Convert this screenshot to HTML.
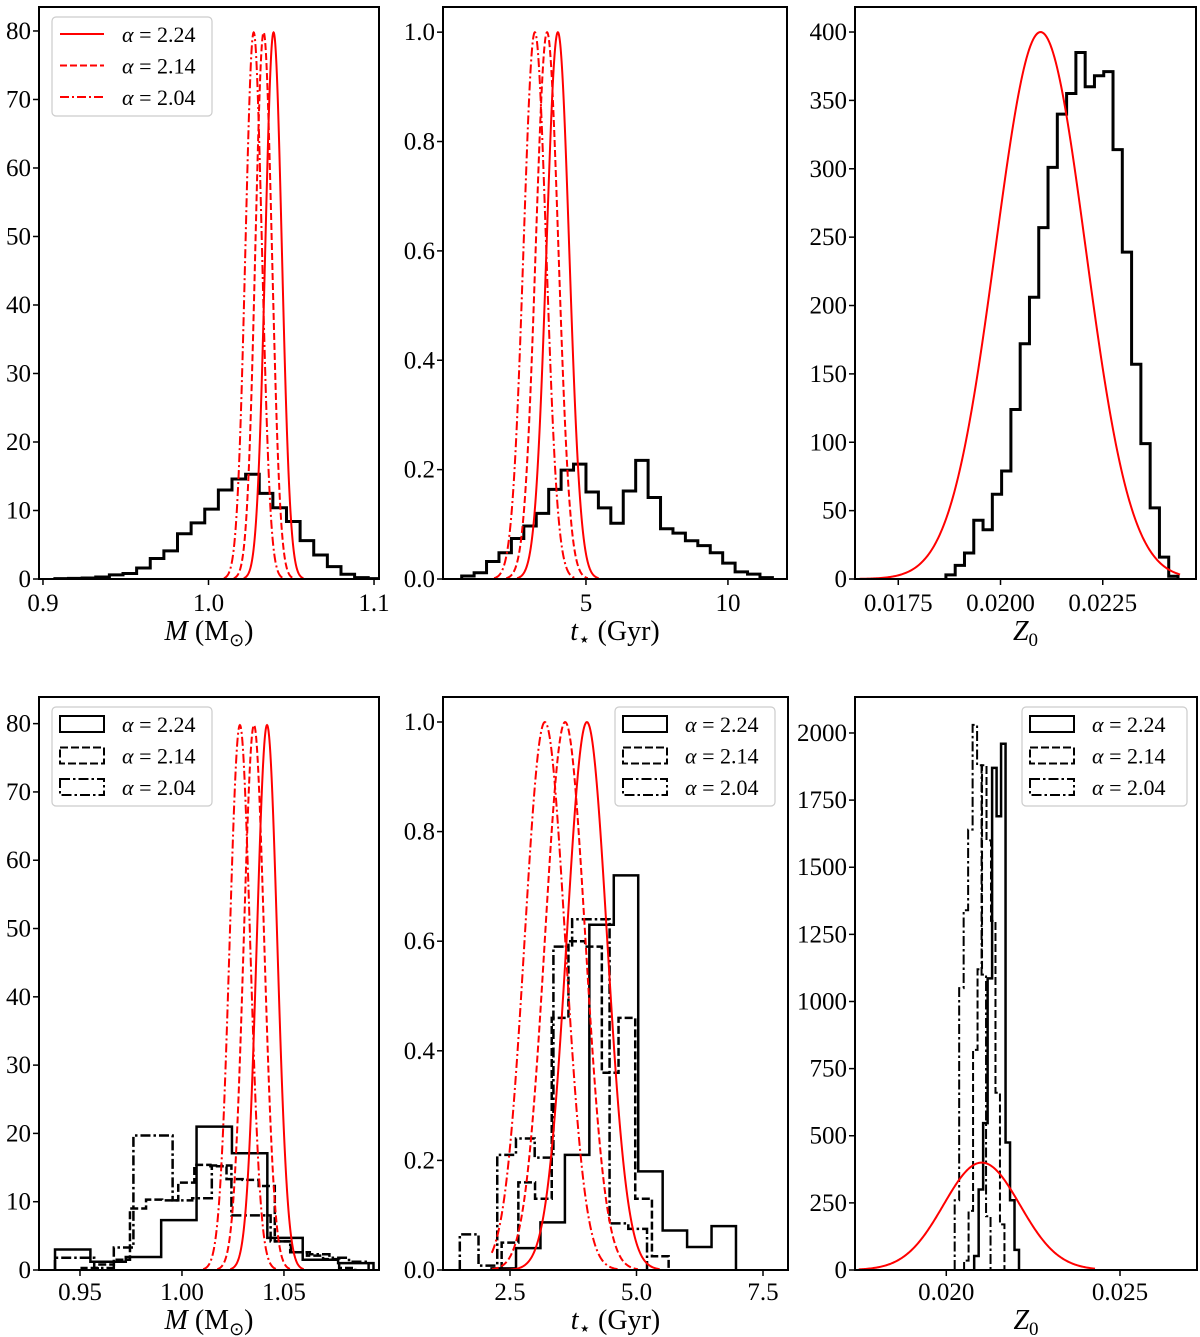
<!DOCTYPE html>
<html><head><meta charset="utf-8"><style>
html,body{margin:0;padding:0;background:#fff;}
svg{display:block;font-family:"Liberation Serif","DejaVu Serif",serif;}
</style></head><body>
<svg id="chart" width="1200" height="1337" viewBox="0 0 1200 1337" xmlns="http://www.w3.org/2000/svg"></svg>
<script>
// ---------- DATA ----------
const p1HistStart = 0.9072, p1HistWidth = 0.00823;
const p1Hist = [0.05,0.1,0.15,0.3,0.6,0.8,1.6,3.0,4.1,6.6,8.2,10.2,13.0,14.6,15.3,12.5,10.4,8.4,5.6,3.5,1.8,0.7,0.2,0.05];
const p1Mu = [1.0393,1.0333,1.0273];
const p1Sigma = 0.005;
const p1XTicks = [0.9,1.0,1.1];
const p1XTickLabels = ['0.9','1.0','1.1'];
const p1YTicks = [0,10,20,30,40,50,60,70,80];
const p2HistStart = 0.623, p2HistWidth = 0.4377;
const p2Hist = [0.0055,0.0115,0.032,0.048,0.074,0.097,0.120,0.164,0.199,0.210,0.159,0.130,0.102,0.161,0.217,0.149,0.092,0.084,0.070,0.061,0.048,0.029,0.013,0.009,0.0025];
const p2Mu = [4.01,3.63,3.20];
const p2Sigma = 0.399;
const p2XTicks = [5,10];
const p2XTickLabels = ['5','10'];
const p2YTicks = [0,0.2,0.4,0.6,0.8,1.0];
const p2YTickLabels = ['0.0','0.2','0.4','0.6','0.8','1.0'];
const p3HistStart = 0.018665, p3HistWidth = 0.000227;
const p3Hist = [3,10,19,43,36,62,79,124,172,206,257,301,340,355,385,360,368,371,314,239,157,99,52,16,2];
const p3Mu = 0.02098, p3Sigma = 0.0011, p3Amp = 400;
const p3XTicks = [0.0175,0.0200,0.0225];
const p3XTickLabels = ['0.0175','0.0200','0.0225'];
const p3YTicks = [0,50,100,150,200,250,300,350,400];
const p4SolidStart = 0.93775, p4SolidWidth = 0.01735;
const p4Solid = [3.0,1.2,1.9,7.3,21.0,17.1,4.7,1.5,1.0];
const p4DashStart = 0.95083, p4DashWidth = 0.00789;
const p4Dash = [0.3,0.8,1.5,9.0,10.3,10.2,12.8,15.4,15.2,13.3,13.2,12.3,4.2,2.6,2.1,1.6,0.3];
const p4DotStart = 0.93775, p4DotWidth = 0.00961;
const p4Dot = [1.8,1.8,0.3,3.3,19.7,19.7,10.2,10.5,15.3,8.0,8.0,4.2,2.6,2.3,1.8,1.2];
const p4Mu = [1.0417,1.0353,1.0284];
const p4XTicks = [0.95,1.00,1.05];
const p4XTickLabels = ['0.95','1.00','1.05'];
const p5SolidStart = 2.136, p5SolidWidth = 0.483;
const p5Solid = [0.003,0.04,0.087,0.21,0.63,0.72,0.18,0.072,0.042,0.08];
const p5DashStart = 2.335, p5DashWidth = 0.33;
const p5Dash = [0.05,0.16,0.13,0.46,0.60,0.59,0.36,0.46,0.13,0.025];
const p5DotStart = 1.508, p5DotWidth = 0.37;
const p5Dot = [0.065,0.008,0.21,0.24,0.205,0.59,0.64,0.64,0.085,0.075];
const p5Mu = [4.02,3.59,3.19];
const p5XTicks = [2.5,5.0,7.5];
const p5XTickLabels = ['2.5','5.0','7.5'];
const p6SolidStart = 0.020803, p6SolidWidth = 0.000129;
const p6Solid = [52,300,547,1086,1870,1690,1960,475,260,75];
const p6DashStart = 0.020513, p6DashWidth = 0.000129;
const p6Dash = [35,220,820,1120,1880,1600,1300,660,170];
const p6DotStart = 0.020242, p6DotWidth = 0.000129;
const p6Dot = [260,1050,1340,1640,2030,1880,1100,200];
const p6Mu = 0.02102, p6Sigma = 0.0011, p6Amp = 400;
const p6XTicks = [0.020,0.025];
const p6XTickLabels = ['0.020','0.025'];
const p6YTicks = [0,250,500,750,1000,1250,1500,1750,2000];
const legendLabels = ['α = 2.24','α = 2.14','α = 2.04'];

// ---------- DRAWING ----------
const NS='http://www.w3.org/2000/svg';
const svg=document.getElementById('chart');
function mk(tag,attrs,parent){const e=document.createElementNS(NS,tag);for(const k in attrs)e.setAttribute(k,attrs[k]);parent.appendChild(e);return e;}
const STYLES=[null,'7,3','9,3,2,3'];
const BSTYLES=[null,'8,3','10,3,2.5,3'];

function makeAxes(name,L){
  const g=mk('g',{},svg);
  
  
  L.sx=v=>L.px0+(v-L.x0)/(L.x1-L.x0)*(L.px1-L.px0);
  L.sy=v=>L.py1-(v-L.y0)/(L.y1-L.y0)*(L.py1-L.py0);
  const cp=mk('clipPath',{id:name+'-clip'},g);
  mk('rect',{x:L.px0,y:L.py0,width:L.px1-L.px0,height:L.py1-L.py0},cp);
  L.g=g;
  L.plot=mk('g',{'clip-path':'url(#'+name+'-clip)'},g);
  return L;
}
function finishAxes(L,xt,xtl,yt,ytl,xlabel,tickY){
  const g=L.g;
  const frame=mk('rect',{x:L.px0,y:L.py0,width:L.px1-L.px0,height:L.py1-L.py0,fill:'none',stroke:'#000','stroke-width':2},g);
  
  
  xt.forEach((v,i)=>{
    const x=L.sx(v);
    mk('line',{x1:x,x2:x,y1:L.py1,y2:L.py1+6,stroke:'#000','stroke-width':1.5},g);
    const t=mk('text',{x:x,y:tickY,'text-anchor':'middle','font-size':25},g);
    
    
    t.textContent=xtl[i];
  });
  yt.forEach((v,i)=>{
    const y=L.sy(v);
    mk('line',{x1:L.px0-6,x2:L.px0,y1:y,y2:y,stroke:'#000','stroke-width':1.5},g);
    const t=mk('text',{x:L.px0-8,y:y+8,'text-anchor':'end','font-size':25},g);
    
    
    t.textContent=ytl?ytl[i]:String(v);
  });
  const xl=mk('text',{x:(L.px0+L.px1)/2,y:tickY+29,'text-anchor':'middle','font-size':28},g);
  
  
  xl.innerHTML=xlabel;
}
function hist(L,start,width,vals,dash,lw,name){
  let d='M'+L.sx(start)+','+L.sy(0);
  vals.forEach((v,i)=>{const a=L.sx(start+i*width),b=L.sx(start+(i+1)*width);d+=' L'+a+','+L.sy(v)+' L'+b+','+L.sy(v);});
  d+=' L'+L.sx(start+vals.length*width)+','+L.sy(0);
  const p=mk('path',{d:d,fill:'none',stroke:'#000','stroke-width':lw,'stroke-linejoin':'miter'},L.plot);
  if(dash)p.setAttribute('stroke-dasharray',dash);
  
  
}
function gauss(L,mu,s,amp,a,b,dash,name){
  let d='';
  for(let i=0;i<=240;i++){const x=a+(b-a)*i/240;const y=amp*Math.exp(-0.5*((x-mu)/s)**2);d+=(i?' L':'M')+L.sx(x).toFixed(2)+','+L.sy(y).toFixed(2);}
  const p=mk('path',{d:d,fill:'none',stroke:'#f00','stroke-width':2},L.plot);
  if(dash)p.setAttribute('stroke-dasharray',dash);
  
  
}
function legend(L,x,y,w,red){
  const g=mk('g',{},L.g);
  
  
  mk('rect',{x:x,y:y,width:w,height:99,rx:4,fill:'#fff','fill-opacity':0.85,stroke:'#ccc','stroke-width':1.2},g);
  legendLabels.forEach((lab,i)=>{
    const cy=y+17+i*31.5;
    let m;
    if(red){m=mk('line',{x1:x+8,x2:x+52,y1:cy,y2:cy,stroke:'#f00','stroke-width':2},g);if(STYLES[i])m.setAttribute('stroke-dasharray',STYLES[i]);}
    else{m=mk('rect',{x:x+8,y:cy-8,width:44,height:16,fill:'none',stroke:'#000','stroke-width':2},g);if(BSTYLES[i])m.setAttribute('stroke-dasharray',BSTYLES[i]);}
    
    
    const t=mk('text',{x:x+70,y:cy+8,'font-size':22},g);
    
    
    t.innerHTML='<tspan font-style="italic">α</tspan> = '+lab.split('= ')[1];
  });
}
const massLabel='<tspan font-style="italic">M</tspan> (M<tspan font-family="DejaVu Sans" font-size="18" dy="6">⊙</tspan><tspan dy="-6">)</tspan>';
const ageLabel='<tspan font-style="italic">t</tspan><tspan font-family="DejaVu Sans" font-size="20" dy="6">⋆</tspan><tspan dy="-6"> (Gyr)</tspan>';
const zLabel='<tspan font-style="italic">Z</tspan><tspan font-size="19" dy="6">0</tspan>';
const amp=s=>1/(s*Math.sqrt(2*Math.PI));

let A=makeAxes('panel-mass-top',{px0:39,px1:379,py0:7,py1:579,x0:0.8976,x1:1.103,y0:0,y1:83.5});
hist(A,p1HistStart,p1HistWidth,p1Hist,null,3,'mass-histogram');
p1Mu.forEach((m,i)=>gauss(A,m,p1Sigma,amp(p1Sigma),m-3.6*p1Sigma,m+3.6*p1Sigma,STYLES[i],'mass-pdf-curve'));
finishAxes(A,p1XTicks,p1XTickLabels,p1YTicks,null,massLabel,611);
legend(A,52,17,160,true);

A=makeAxes('panel-age-top',{px0:443,px1:787,py0:7,py1:579,x0:-0.035,x1:12.08,y0:0,y1:1.046});
hist(A,p2HistStart,p2HistWidth,p2Hist,null,3,'age-histogram');
p2Mu.forEach((m,i)=>gauss(A,m,p2Sigma,amp(p2Sigma),m-3.6*p2Sigma,m+3.6*p2Sigma,STYLES[i],'age-pdf-curve'));
finishAxes(A,p2XTicks,p2XTickLabels,p2YTicks,p2YTickLabels,ageLabel,611);

A=makeAxes('panel-z-top',{px0:855,px1:1196,py0:7,py1:579,x0:0.016442,x1:0.02478,y0:0,y1:418.3});
hist(A,p3HistStart,p3HistWidth,p3Hist,null,3,'z-histogram');
gauss(A,p3Mu,p3Sigma,p3Amp,0.01655,0.02439,null,'z-prior-curve');
finishAxes(A,p3XTicks,p3XTickLabels,p3YTicks,null,zLabel,611);

A=makeAxes('panel-mass-bottom',{px0:39,px1:379,py0:697,py1:1270,x0:0.9299,x1:1.0966,y0:0,y1:83.9});
hist(A,p4SolidStart,p4SolidWidth,p4Solid,null,2.5,'mass-hist-224');
hist(A,p4DashStart,p4DashWidth,p4Dash,BSTYLES[1],2.5,'mass-hist-214');
hist(A,p4DotStart,p4DotWidth,p4Dot,BSTYLES[2],2.5,'mass-hist-204');
p4Mu.forEach((m,i)=>gauss(A,m,p1Sigma,amp(p1Sigma),m-3.6*p1Sigma,m+3.6*p1Sigma,STYLES[i],'mass-pdf-curve'));
finishAxes(A,p4XTicks,p4XTickLabels,p1YTicks,null,massLabel,1300);
legend(A,52,707,160,false);

A=makeAxes('panel-age-bottom',{px0:443,px1:788,py0:697,py1:1270,x0:1.176,x1:7.994,y0:0,y1:1.0456});
hist(A,p5SolidStart,p5SolidWidth,p5Solid,null,2.5,'age-hist-224');
hist(A,p5DashStart,p5DashWidth,p5Dash,BSTYLES[1],2.5,'age-hist-214');
hist(A,p5DotStart,p5DotWidth,p5Dot,BSTYLES[2],2.5,'age-hist-204');
p5Mu.forEach((m,i)=>gauss(A,m,p2Sigma,amp(p2Sigma),2.14,m+3.6*p2Sigma,STYLES[i],'age-pdf-curve'));
finishAxes(A,p5XTicks,p5XTickLabels,p2YTicks,p2YTickLabels,ageLabel,1300);
legend(A,615,707,160,false);

A=makeAxes('panel-z-bottom',{px0:855,px1:1197,py0:697,py1:1270,x0:0.017373,x1:0.027216,y0:0,y1:2134});
hist(A,p6SolidStart,p6SolidWidth,p6Solid,null,2.5,'z-hist-224');
hist(A,p6DashStart,p6DashWidth,p6Dash,BSTYLES[1],2,'z-hist-214');
hist(A,p6DotStart,p6DotWidth,p6Dot,BSTYLES[2],2,'z-hist-204');
gauss(A,p6Mu,p6Sigma,p6Amp,0.01748,0.02428,null,'z-prior-curve');
finishAxes(A,p6XTicks,p6XTickLabels,p6YTicks,null,zLabel,1300);
legend(A,1022,707,165,false);
</script>
</body></html>
